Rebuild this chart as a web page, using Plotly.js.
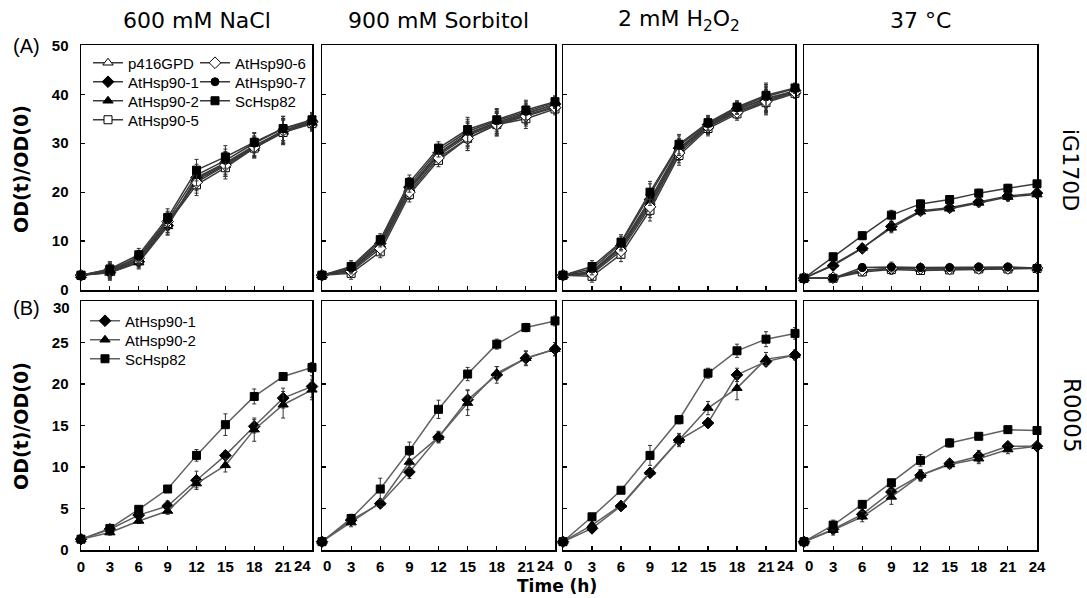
<!DOCTYPE html>
<html><head><meta charset="utf-8">
<script src="https://cdn.plot.ly/plotly-3.0.1.min.js"></script>
<style>body{margin:0;background:#fff}#chart{width:1087px;height:598px}</style>
</head><body><div id="chart"></div>
<script>
// ---------------- DATA ----------------
const times = [0, 3, 6, 9, 12, 15, 18, 21, 24];
const conditions = ['600 mM NaCl', '900 mM Sorbitol', '2 mM H<sub>2</sub>O<sub>2</sub>', '37 °C'];
const strainsA = ['p416GPD', 'AtHsp90-1', 'AtHsp90-2', 'AtHsp90-5', 'AtHsp90-6', 'AtHsp90-7', 'ScHsp82'];
const strainsB = ['AtHsp90-1', 'AtHsp90-2', 'ScHsp82'];
const yTicksA = [0, 10, 20, 30, 40, 50];
const yTicksB = [0, 5, 10, 15, 20, 25, 30];

// (A) iG170D — rows follow strainsA
const iG170D_NaCl = [
  [3.0, 3.8, 6.0, 13.5, 22.5, 25.5, 29.0, 32.5, 34.0],
  [3.0, 3.6, 5.8, 13.2, 23.0, 26.0, 29.5, 32.5, 34.5],
  [3.0, 3.5, 5.6, 13.0, 22.8, 25.8, 29.3, 32.3, 34.2],
  [3.0, 4.0, 6.2, 13.6, 21.5, 25.0, 29.0, 32.2, 34.0],
  [3.0, 4.2, 6.5, 14.0, 22.0, 25.5, 29.2, 32.6, 34.3],
  [3.0, 3.9, 6.8, 14.3, 23.5, 26.5, 30.0, 33.0, 34.5],
  [3.0, 4.3, 7.2, 14.8, 24.5, 27.2, 30.2, 33.0, 34.8]
];
const iG170D_Sorbitol = [
  [3.0, 4.0, 9.0, 20.5, 27.5, 31.5, 34.0, 35.8, 37.5],
  [3.0, 4.3, 9.5, 21.0, 28.0, 32.0, 34.3, 36.0, 38.0],
  [3.0, 4.2, 9.3, 20.8, 27.8, 31.8, 34.2, 36.2, 37.8],
  [3.0, 3.4, 7.8, 19.5, 26.5, 31.0, 33.8, 35.0, 37.0],
  [3.0, 3.8, 8.5, 20.0, 27.0, 31.0, 33.8, 35.5, 37.3],
  [3.0, 4.5, 10.0, 21.5, 28.5, 32.4, 34.6, 36.5, 38.3],
  [3.0, 4.8, 10.3, 22.0, 29.0, 32.8, 34.8, 36.8, 38.5]
];
const iG170D_H2O2 = [
  [3.0, 3.5, 8.5, 17.5, 28.5, 33.5, 36.5, 38.8, 40.5],
  [3.0, 3.8, 9.0, 18.5, 29.0, 33.8, 37.0, 39.0, 40.8],
  [3.0, 3.6, 8.8, 18.0, 28.8, 33.6, 36.8, 39.2, 40.6],
  [3.0, 2.8, 7.3, 16.3, 27.5, 33.0, 36.0, 38.3, 40.2],
  [3.0, 3.3, 8.0, 17.0, 28.0, 33.3, 36.3, 38.5, 40.4],
  [3.0, 4.3, 9.5, 19.5, 29.5, 34.0, 37.2, 39.5, 41.2],
  [3.0, 4.8, 9.8, 20.0, 29.8, 34.2, 37.4, 39.8, 41.3]
];
const iG170D_37C = [
  [2.4, 2.5, 4.0, 4.4, 4.3, 4.3, 4.4, 4.4, 4.5],
  [2.4, 5.0, 8.5, 13.0, 16.2, 16.8, 18.0, 19.2, 19.8],
  [2.4, 5.2, 8.6, 12.7, 16.0, 16.6, 17.8, 19.0, 19.5],
  [2.4, 2.4, 3.7, 4.2, 4.0, 4.1, 4.3, 4.3, 4.4],
  [2.4, 2.5, 4.1, 4.4, 4.4, 4.3, 4.4, 4.4, 4.5],
  [2.4, 2.4, 4.6, 4.7, 4.6, 4.6, 4.7, 4.7, 4.5],
  [2.4, 6.8, 11.1, 15.3, 17.6, 18.5, 19.8, 20.8, 21.7]
];
// error bars (A), one row per condition
const iG170D_err = [
  [0.5, 1.5, 1.3, 1.8, 2.2, 2.3, 2.0, 2.5, 1.5],
  [0.6, 1.2, 1.2, 1.5, 1.3, 2.5, 2.3, 2.0, 1.2],
  [0.6, 1.2, 1.5, 2.2, 2.0, 1.5, 1.3, 2.5, 1.0],
  [0.3, 0.6, 0.8, 1.0, 0.8, 0.7, 0.8, 0.8, 0.6]
];

// (B) R0005 — rows follow strainsB
const R0005_NaCl = [
  [1.3, 2.5, 4.2, 5.3, 8.4, 11.4, 14.9, 18.3, 19.7],
  [1.3, 2.1, 3.5, 4.7, 8.0, 10.2, 14.5, 17.5, 19.3],
  [1.3, 2.6, 4.9, 7.35, 11.4, 15.1, 18.5, 20.9, 22.0]
];
const R0005_Sorbitol = [
  [1.0, 3.6, 5.6, 9.4, 13.6, 18.1, 21.1, 23.1, 24.2],
  [1.0, 3.3, 5.7, 10.6, 13.6, 17.7, 21.3, 23.1, 24.2],
  [1.0, 3.8, 7.35, 12.0, 16.95, 21.2, 24.8, 26.8, 27.6]
];
const R0005_H2O2 = [
  [1.0, 2.6, 5.3, 9.3, 13.25, 15.3, 21.1, 22.7, 23.5],
  [1.0, 3.0, 5.4, 9.4, 13.25, 17.1, 19.5, 23.0, 23.5],
  [1.0, 4.0, 7.2, 11.4, 15.7, 21.3, 24.0, 25.4, 26.1]
];
const R0005_37C = [
  [1.0, 2.5, 4.3, 7.0, 9.0, 10.4, 11.3, 12.5, 12.5],
  [1.0, 2.4, 4.0, 6.4, 9.0, 10.3, 11.0, 12.1, 12.5],
  [1.0, 3.0, 5.5, 8.1, 10.8, 12.9, 13.7, 14.5, 14.4]
];
const R0005_NaCl_err = [
  [0.2, 0.3, 0.4, 0.6, 1.1, 0.5, 0.8, 1.2, 1.3],
  [0.2, 0.3, 0.3, 0.4, 0.5, 0.8, 1.4, 1.6, 1.2],
  [0.2, 0.3, 0.4, 0.4, 0.7, 1.3, 0.9, 0.4, 0.6]
];
const R0005_Sorbitol_err = [
  [0.2, 0.4, 0.4, 0.8, 0.6, 1.2, 1.0, 0.9, 0.8],
  [0.2, 0.5, 0.4, 0.8, 0.7, 1.5, 0.8, 0.8, 0.8],
  [0.2, 0.5, 1.3, 1.0, 1.1, 0.8, 0.6, 0.5, 0.6]
];
const R0005_H2O2_err = [
  [0.2, 0.3, 0.3, 0.4, 0.8, 0.5, 0.8, 0.5, 0.5],
  [0.2, 0.3, 0.3, 0.3, 0.6, 0.8, 1.4, 0.8, 0.6],
  [0.2, 0.4, 0.3, 1.2, 0.5, 0.6, 0.8, 0.9, 0.7]
];
const R0005_37C_err = [
  [0.2, 0.5, 0.5, 0.6, 0.6, 0.5, 0.7, 0.4, 0.4],
  [0.2, 0.6, 0.6, 0.9, 0.7, 0.5, 0.6, 0.5, 0.4],
  [0.2, 0.6, 0.4, 0.4, 0.7, 0.5, 0.4, 0.4, 0.4]
];

// ---------------- STYLE ----------------
const markerStyle = {
  'p416GPD':   {symbol: 'triangle-up', color: '#ffffff', size: 9},
  'AtHsp90-1': {symbol: 'diamond',     color: '#000000', size: 9},
  'AtHsp90-2': {symbol: 'triangle-up', color: '#000000', size: 9},
  'AtHsp90-5': {symbol: 'square',      color: '#ffffff', size: 8},
  'AtHsp90-6': {symbol: 'diamond',     color: '#ffffff', size: 9},
  'AtHsp90-7': {symbol: 'circle',      color: '#000000', size: 8},
  'ScHsp82':   {symbol: 'square',      color: '#000000', size: 8}
};
// one legend box per entry, so rows can sit at the reference spacing
const legendA = {'p416GPD': ['legend', 88, 63], 'AtHsp90-1': ['legend2', 88, 82], 'AtHsp90-2': ['legend3', 88, 101],
                 'AtHsp90-5': ['legend4', 88, 120], 'AtHsp90-6': ['legend5', 195, 63], 'AtHsp90-7': ['legend6', 195, 82],
                 'ScHsp82': ['legend7', 195, 101]};
const legendB = {'AtHsp90-1': ['legend8', 85, 321], 'AtHsp90-2': ['legend9', 85, 340], 'ScHsp82': ['legend10', 85, 359]};

const W = 1087, H = 598;
const colPx = [[81, 312], [322, 555], [563, 795], [804, 1037]];
const rowA = [45.4, 290], rowB = [301, 550];
const px2x = p => p / W, px2y = p => 1 - p / H;

const dataA = [iG170D_NaCl, iG170D_Sorbitol, iG170D_H2O2, iG170D_37C];
const dataB = [R0005_NaCl, R0005_Sorbitol, R0005_H2O2, R0005_37C];
const errB = [R0005_NaCl_err, R0005_Sorbitol_err, R0005_H2O2_err, R0005_37C_err];

const traces = [];
function mk(name, x, y, err, axIdx, lineColor, legendName, showleg) {
  const ms = markerStyle[name];
  return {
    type: 'scatter', mode: 'lines+markers', name: name, x: x, y: y,
    xaxis: 'x' + (axIdx === 1 ? '' : axIdx), yaxis: 'y' + (axIdx === 1 ? '' : axIdx),
    line: {color: lineColor, width: 1.5},
    marker: {symbol: ms.symbol, color: ms.color, size: ms.size, line: {color: '#000', width: 1}},
    error_y: {type: 'data', array: err, visible: true, color: '#333', thickness: 1, width: 2},
    cliponaxis: false, legend: legendName, showlegend: showleg
  };
}
for (let c = 0; c < 4; c++) {
  strainsA.forEach((s, k) => {
    traces.push(mk(s, times, dataA[c][k], iG170D_err[c], c + 1, '#3a3a3a', legendA[s][0], c === 0));
  });
}
for (let c = 0; c < 4; c++) {
  strainsB.forEach((s, k) => {
    traces.push(mk(s, times, dataB[c][k], errB[c][k], c + 5, '#606060', legendB[s][0], c === 0));
  });
}

const tickFont = {family: 'Liberation Sans, Arial, sans-serif', size: 15, weight: 'bold', color: '#000'};
const layout = {
  width: W, height: H, margin: {l: 0, r: 0, t: 0, b: 0},
  paper_bgcolor: '#fff', plot_bgcolor: '#fff',
  font: {family: 'Liberation Sans, Arial, sans-serif', color: '#000'},
  showlegend: true,
  annotations: []
};
[legendA, legendB].forEach(map => Object.values(map).forEach(([key, lx, ly]) => {
  layout[key] = {x: px2x(lx), y: px2y(ly), xanchor: 'left', yanchor: 'middle', bgcolor: 'rgba(0,0,0,0)',
                 font: {size: 15, color: '#000'}, itemwidth: 30};
}));

function ann(text, x, y, font, extra) {
  layout.annotations.push(Object.assign({
    text: text, x: px2x(x), y: px2y(y), xref: 'paper', yref: 'paper',
    xanchor: 'center', yanchor: 'middle', showarrow: false, font: font
  }, extra || {}));
}

for (let i = 1; i <= 8; i++) {
  const c = (i - 1) % 4, top = i <= 4;
  const rows = top ? rowA : rowB;
  const sfx = i === 1 ? '' : i;
  // edge labels of neighbouring panels are nudged inward (as in the reference) via annotations
  let xv = times.slice();
  if (!top) {
    if (c > 0) xv = xv.filter(t => t !== times[0]);
    if (c < 3) xv = xv.filter(t => t !== times[times.length - 1]);
  }
  layout['xaxis' + sfx] = {
    domain: [px2x(colPx[c][0]), px2x(colPx[c][1])], anchor: 'y' + sfx,
    range: [0, 24], tickvals: xv, ticktext: xv.map(String),
    showticklabels: !top, ticks: 'inside', ticklen: 4, tickwidth: 1.2, tickcolor: '#000',
    showline: true, mirror: true, linecolor: '#000', linewidth: 1.5,
    showgrid: false, zeroline: false, tickfont: tickFont, ticklabelstandoff: 2
  };
  if (!top) {
    if (c > 0) ann(String(times[0]), 0, 565, tickFont, {xref: 'x' + sfx, x: times[0], xanchor: 'left', xshift: -1});
    if (c < 3) ann(String(times[times.length - 1]), 0, 565, tickFont, {xref: 'x' + sfx, x: times[times.length - 1], xanchor: 'right', xshift: 1});
  }
  let yv = top ? yTicksA.slice() : yTicksB.slice();
  if (!top && c === 0) yv = yv.slice(0, -1);
  layout['yaxis' + sfx] = {
    domain: [px2y(rows[1]), px2y(rows[0])], anchor: 'x' + sfx,
    range: [0, top ? 50 : 30], tickvals: yv, ticktext: yv.map(String),
    showticklabels: c === 0, ticks: 'inside', ticklen: 4, tickwidth: 1.2, tickcolor: '#000',
    showline: true, mirror: true, linecolor: '#000', linewidth: 1.5,
    showgrid: false, zeroline: false, tickfont: tickFont, ticklabelstandoff: 8
  };
}
ann(String(yTicksB[yTicksB.length - 1]), 0, 307, tickFont, {xref: 'x5 domain', x: 0, xanchor: 'right', xshift: -9});

const titleFont = {family: 'DejaVu Sans, sans-serif', size: 22, color: '#000'};
conditions.forEach((t, c) => ann(t, (colPx[c][0] + colPx[c][1]) / 2, 21, titleFont));
ann('(A)', 26, 46, {family: 'Liberation Sans, Arial', size: 20, color: '#000'});
ann('(B)', 26, 308, {family: 'Liberation Sans, Arial', size: 20, color: '#000'});
ann('iG170D', 1071, 170, {family: 'DejaVu Sans, sans-serif', size: 22, color: '#000'}, {textangle: 90});
ann('R0005', 1072, 415, {family: 'DejaVu Sans, sans-serif', size: 23, color: '#000'}, {textangle: 90});
const axTitleFont = {family: 'DejaVu Sans, sans-serif', size: 19, weight: 'bold', color: '#000'};
ann('OD(t)/OD(0)', 21, 169, axTitleFont, {textangle: -90});
ann('OD(t)/OD(0)', 21, 426, axTitleFont, {textangle: -90});
ann('Time (h)', 557, 586, {family: 'DejaVu Sans, sans-serif', size: 17, weight: 'bold', color: '#000'});

Plotly.newPlot('chart', traces, layout, {staticPlot: true, displayModeBar: false});
</script>
</body></html>
